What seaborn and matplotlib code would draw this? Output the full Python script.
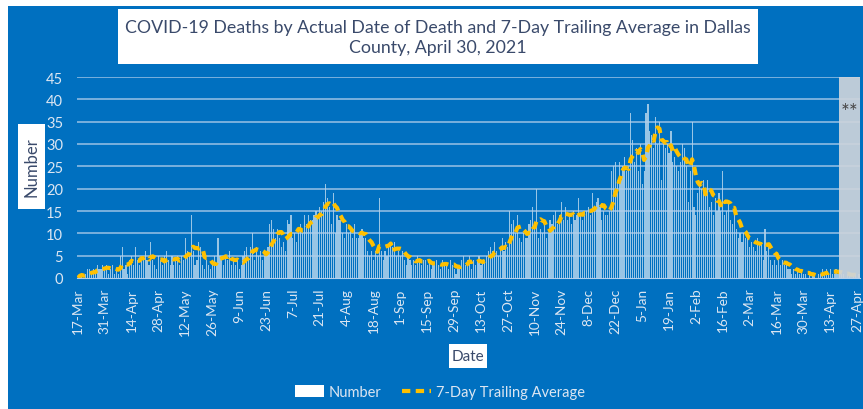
import numpy as np
import pandas as pd
import matplotlib
matplotlib.use('Agg')
import matplotlib.pyplot as plt
import matplotlib.patches as mpatches
from matplotlib.lines import Line2D
import seaborn as sns

# ── data: daily deaths, one row per week starting Tue 17-Mar-2020 ────────
start_date = '2020-03-17'
deaths = [
    0, 1, 1, 0, 1, 2, 2,          # 17-Mar
    1, 2, 1, 3, 2, 2, 3,          # 24-Mar
    2, 3, 1, 2, 3, 1, 2,          # 31-Mar
    1, 5, 7, 2, 3, 1, 4,          # 7-Apr
    5, 3, 7, 4, 3, 5, 4,          # 14-Apr
    6, 4, 3, 8, 4, 3, 2,          # 21-Apr
    5, 4, 3, 5, 6, 4, 3,          # 28-Apr
    5, 3, 4, 5, 3, 5, 4,          # 5-May
    9, 6, 5, 14, 6, 3, 4,         # 12-May
    8, 7, 3, 2, 4, 3, 2,          # 19-May
    3, 5, 3, 9, 5, 4, 3,          # 26-May
    5, 4, 6, 3, 4, 3, 4,          # 2-Jun
    2, 3, 5, 6, 7, 4, 7,          # 9-Jun
    10, 4, 7, 5, 6, 4, 5,         # 16-Jun
    6, 7, 12, 13, 11, 9, 11,      # 23-Jun
    9, 7, 8, 6, 13, 12, 14,       # 30-Jun
    9, 10, 8, 11, 12, 10, 14,     # 7-Jul
    12, 14, 13, 13, 14, 15, 14,   # 14-Jul
    16, 15, 17, 21, 18, 16, 12,   # 21-Jul
    19, 10, 14, 13, 13, 10, 9,    # 28-Jul
    12, 10, 11, 9, 12, 9, 9,      # 4-Aug
    10, 11, 9, 9, 6, 5, 6,        # 11-Aug
    4, 6, 5, 18, 6, 4, 6,         # 18-Aug
    5, 7, 8, 7, 8, 5, 6,          # 25-Aug
    5, 6, 4, 3, 5, 4, 3,          # 1-Sep
    4, 3, 5, 4, 3, 4, 4,          # 8-Sep
    3, 4, 2, 3, 3, 4, 3,          # 15-Sep
    2, 4, 3, 3, 2, 4, 3,          # 22-Sep
    2, 1, 3, 2, 4, 5, 3,          # 29-Sep
    4, 5, 2, 4, 3, 4, 5,          # 6-Oct
    3, 4, 4, 5, 6, 7, 6,          # 13-Oct
    8, 6, 5, 7, 9, 6, 8,          # 20-Oct
    7, 15, 12, 13, 10, 14, 9,     # 27-Oct
    8, 10, 9, 9, 12, 13, 16,      # 3-Nov
    11, 20, 9, 11, 10, 12, 9,     # 10-Nov
    10, 13, 12, 14, 15, 12, 14,   # 17-Nov
    17, 13, 16, 13, 14, 12, 15,   # 24-Nov
    13, 14, 18, 14, 13, 15, 15,   # 1-Dec
    16, 14, 19, 16, 17, 18, 16,   # 8-Dec
    13, 15, 14, 14, 15, 24, 25,   # 15-Dec
    26, 22, 26, 22, 25, 27, 24,   # 22-Dec
    25, 37, 31, 26, 29, 24, 30,   # 29-Dec
    21, 24, 37, 39, 33, 32, 29,   # 5-Jan
    36, 30, 35, 22, 31, 29, 30,   # 12-Jan
    28, 33, 26, 27, 25, 24, 26,   # 19-Jan
    30, 29, 25, 17, 24, 35, 16,   # 26-Jan
    14, 19, 21, 20, 22, 19, 22,   # 2-Feb
    16, 17, 14, 18, 15, 19, 15,   # 9-Feb
    24, 14, 15, 17, 13, 12, 15,   # 16-Feb
    11, 9, 10, 8, 10, 9, 9,       # 23-Feb
    7, 8, 7, 6, 9, 8, 8,          # 2-Mar
    4, 11, 6, 7, 4, 3, 4,         # 9-Mar
    3, 4, 3, 4, 3, 3, 2,          # 16-Mar
    2, 1, 2, 1, 2, 1, 2,          # 23-Mar
    1, 1, 0, 1, 0, 1, 1,          # 30-Mar
    0, 1, 1, 2, 1, 2, 1,          # 6-Apr
    2, 1, 1, 2, 1, 1, 1,          # 13-Apr
    1, 0, 1, 1, 0, 1, 1,          # 20-Apr
    0, 1,                         # 27-Apr
]
incomplete_from = '2021-04-18'   # grey "**" band
y_ticks = [0, 5, 10, 15, 20, 25, 30, 35, 40, 45]

dates = pd.date_range(start_date, periods=len(deaths), freq='D')
df = pd.DataFrame({'date': dates, 'deaths': deaths})
df['day'] = np.arange(len(df))
df['avg7'] = df['deaths'].rolling(7, min_periods=1).mean()

BLUE = '#0070C0'
LIGHT = '#DCE6F2'
GRID = '#B4D0EC'
NAVY = '#3A4A6B'
GOLD = '#FFC000'
W, H = 863, 410

sns.set_style('white')
plt.rcParams['font.family'] = ['Lato', 'DejaVu Sans']

fig = plt.figure(figsize=(W / 100, H / 100), dpi=100, facecolor='white')


def box(x0, y0, x1, y1, color):
    # rectangle given in pixel coords from the top-left corner
    fig.patches.append(mpatches.Rectangle((x0 / W, 1 - y1 / H), (x1 - x0) / W, (y1 - y0) / H,
                                          transform=fig.transFigure, facecolor=color,
                                          edgecolor='none', zorder=-10))


box(8, 7, W, H, BLUE)
box(118, 10, 758, 65, 'white')
box(18, 125, 45, 210, 'white')
box(449, 345, 487, 369, 'white')

ax = fig.add_axes([77 / W, 1 - 279 / H, (860 - 77) / W, (279 - 78) / H])
ax.set_facecolor(BLUE)

sns.barplot(data=df, x='day', y='deaths', color='white', width=0.6, saturation=1,
            alpha=0.6, errorbar=None, ax=ax, zorder=2, linewidth=0)
sns.lineplot(data=df, x='day', y='avg7', color=GOLD, lw=3, ax=ax, zorder=5)
ax.lines[-1].set_dashes((2.0, 1.3))

# grey band for incomplete days
inc = df.loc[df['date'] >= incomplete_from, 'day'].iloc[0] - 0.5
ax.axvspan(inc, len(df) - 0.5, color='#CDD4DB', alpha=0.92, zorder=6, lw=0)
ax.text((inc + len(df) - 0.5) / 2, 37.2, '**', ha='center', va='center',
        fontsize=15, color='#454545', zorder=7)

for yv in y_ticks[1:]:
    ax.axhline(yv, color=GRID, lw=1.1, alpha=0.85, zorder=4)

ax.set_ylim(0, 45)
ax.set_xlim(-0.5, len(df) - 0.5)
ax.set_yticks(y_ticks)
ax.set_yticklabels([str(v) for v in y_ticks], fontsize=10.5, color=LIGHT)
ax.set_xticks(df['day'][::14])
ax.set_xticklabels([f"{d.day}-{d.strftime('%b')}" for d in df['date'][::14]],
                   rotation=90, fontsize=9.8, color=LIGHT)
ax.tick_params(axis='x', length=5, color=GRID, width=1, pad=2)
ax.tick_params(axis='y', length=0, pad=10)
for s in ['top', 'right', 'left']:
    ax.spines[s].set_visible(False)
ax.spines['bottom'].set_color(GRID)
ax.spines['bottom'].set_zorder(8)
ax.set_xlabel('')
ax.set_ylabel('')

# title
fig.text(438 / W, 1 - 38 / H,
         'COVID-19 Deaths by Actual Date of Death and 7-Day Trailing Average in Dallas\nCounty, April 30, 2021',
         ha='center', va='center', fontsize=12.8, color=NAVY, linespacing=1.3)

# axis titles
fig.text(31.5 / W, 1 - 167 / H, 'Number', rotation=90, ha='center', va='center',
         fontsize=12, color=NAVY)
fig.text(468 / W, 1 - 357 / H, 'Date', ha='center', va='center',
         fontsize=11, color=NAVY)

# legend
handles = [mpatches.Patch(facecolor='white', edgecolor='none', label='Number'),
           Line2D([0], [0], color=GOLD, lw=3, dashes=(2.0, 1.3), label='7-Day Trailing Average')]
leg = fig.legend(handles=handles, loc='center', bbox_to_anchor=(440 / W, 1 - 393 / H),
                 ncol=2, frameon=False, fontsize=10.5, handlelength=2.0, handleheight=0.8,
                 columnspacing=1.4, handletextpad=0.35)
for t in leg.get_texts():
    t.set_color(LIGHT)

fig.savefig('out.png', dpi=100, facecolor='white')
